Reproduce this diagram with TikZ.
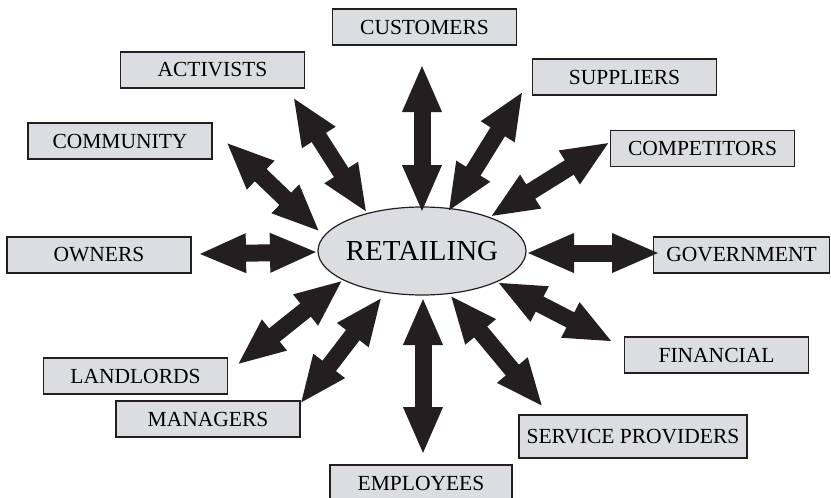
\documentclass[tikz,border=0pt]{standalone}
\usepackage{fontspec}
\setmainfont{Liberation Serif}
\usetikzlibrary{arrows.meta}

\definecolor{boxgray}{RGB}{220,221,224}
\definecolor{ink}{RGB}{35,31,32}

\tikzstyle{box} = [style={rectangle,draw=ink,line width=1.2pt,fill=boxgray,minimum width=184pt,minimum height=36pt,inner sep=0pt,font=\fontsize{21.5}{24}\selectfont}]
\tikzstyle{hubline} = [style={draw=ink,line width=1.2pt,fill=boxgray}]
\tikzstyle{link} = [style={draw=ink,line width=17pt,{Triangle[width=36pt,length=48pt]}-{Triangle[width=36pt,length=48pt]}}]

\begin{document}
\begin{tikzpicture}[x=1pt,y=-1pt]
\useasboundingbox (0,0) rectangle (831,498);

%% stakeholder boxes
\foreach \nm/\x/\y/\txt in {cus/424.5/27/CUSTOMERS, act/212.5/70/ACTIVISTS, com/120/141/COMMUNITY,
    own/99/255/OWNERS, lan/135.5/376/LANDLORDS, man/208/419/MANAGERS,
    fin/716.5/355/FINANCIAL, com2/702.5/148.5/COMPETITORS, sup/624.5/77/SUPPLIERS}
  {\node [box] (\nm) at (\x,\y) {\txt};}

\node [box, minimum width=176pt] (gov) at (741.5,255) {GOVERNMENT};
\node [box, minimum width=182pt] (emp) at (421,483) {EMPLOYEES};
\node [box, minimum width=228pt, minimum height=43pt] (ser) at (633,436.5) {SERVICE PROVIDERS};

%% retailing hub
\draw [hubline] (422,251) ellipse [x radius=104pt, y radius=44pt];
\node [font=\fontsize{29}{32}\selectfont] (ret) at (422,251) {RETAILING};

%% two-way arrows: outer tip / inner tip
\foreach \nm/\ox/\oy/\ix/\iy in {cus/422/64/422/213, sup/523/91/448/212, com2/610/142/490/217,
    gov/660/253/526/253, fin/613/342/497/282, ser/543/407/450/295,
    emp/423/455/423/297, man/300/404/382/297, lan/237/365/343/280,
    own/198/254/318/252, com/226/142/320/232, act/293/97/367/213}
  {
  \coordinate (\nm-o) at (\ox,\oy);
  \coordinate (\nm-i) at (\ix,\iy);
  \draw [link] (\nm-o) -- (\nm-i);
  }

\end{tikzpicture}
\end{document}
